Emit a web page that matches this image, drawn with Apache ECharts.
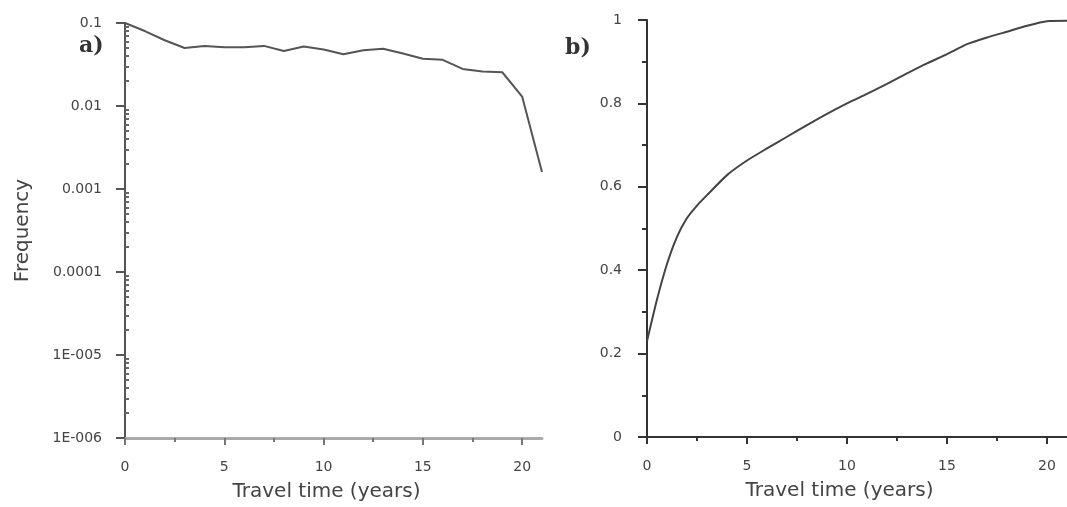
<!DOCTYPE html>
<html>
<head>
<meta charset="utf-8">
<script src="https://cdn.jsdelivr.net/npm/echarts@6/dist/echarts.min.js"></script>
<style>
html, body { margin: 0; padding: 0; background: #fff; }
#chart { width: 1067px; height: 507px; }
</style>
</head>
<body>
<div id="chart"></div>
<script>
// a) frequency of travel time (log scale)
var yearsA = [0, 1, 2, 3, 4, 5, 6, 7, 8, 9, 10, 11, 12, 13, 14, 15, 16, 17, 18, 19, 20, 21];
var freqA = [0.1, 0.08, 0.062, 0.05, 0.053, 0.051, 0.051, 0.053, 0.046, 0.052, 0.048, 0.042, 0.047, 0.049, 0.043, 0.037, 0.036, 0.028, 0.026, 0.0255, 0.013, 0.0016];
// b) cumulative
var yearsB = [0, 0.5, 1, 1.5, 2, 2.5, 3, 4, 5, 6, 7, 8, 9, 10, 11, 12, 13, 14, 15, 16, 17, 18, 19, 20, 21];
var cumB = [0.23, 0.33, 0.415, 0.48, 0.525, 0.555, 0.58, 0.628, 0.663, 0.692, 0.72, 0.748, 0.775, 0.8, 0.823, 0.847, 0.872, 0.896, 0.918, 0.942, 0.958, 0.972, 0.986, 0.997, 0.998];

var xTicks = [0, 5, 10, 15, 20];
var xMinor = [2.5, 7.5, 12.5, 17.5];
var logTicks = [1e-6, 1e-5, 1e-4, 1e-3, 1e-2, 1e-1];
var logLabels = ['1E-006', '1E-005', '0.0001', '0.001', '0.01', '0.1'];
var logMinor = [];
for (var d = -6; d < -1; d++) {
    for (var k = 2; k <= 9; k++) logMinor.push(k * Math.pow(10, d));
}
var linTicks = [0, 0.2, 0.4, 0.6, 0.8, 1];
var linMinor = [0.1, 0.3, 0.5, 0.7, 0.9];

var labelStyle = { color: '#444', fontSize: 14, fontFamily: 'DejaVu Sans, sans-serif' };
var nameStyle = { color: '#444', fontSize: 20, fontFamily: 'DejaVu Sans, sans-serif' };

var chart = echarts.init(document.getElementById('chart'));
chart.setOption({
    backgroundColor: '#fff',
    animation: false,
    grid: [
        { left: 125, top: 23, width: 417, height: 415, outerBoundsMode: 'none', containLabel: false },
        { left: 647, top: 20, width: 420, height: 417, outerBoundsMode: 'none', containLabel: false }
    ],
    xAxis: [
        {
            gridIndex: 0, type: 'value', min: 0, max: 21, position: 'bottom',
            name: 'Travel time (years)', nameLocation: 'center', nameGap: 44,
            nameTextStyle: Object.assign({}, nameStyle, { padding: [0, 14, 0, 0] }),
            axisLine: { onZero: false, lineStyle: { color: '#aaa', width: 3 } },
            axisTick: { customValues: xTicks, length: 7, lineStyle: { color: '#777', width: 2 } },
            axisLabel: { customValues: xTicks, margin: 22, ...labelStyle },
            splitLine: { show: false }
        },
        {
            gridIndex: 0, type: 'value', min: 0, max: 21, position: 'bottom',
            axisLine: { show: false, onZero: false },
            axisTick: { customValues: xMinor, length: 4, lineStyle: { color: '#777', width: 2 } },
            axisLabel: { show: false },
            splitLine: { show: false }
        },
        {
            gridIndex: 1, type: 'value', min: 0, max: 21, position: 'bottom',
            name: 'Travel time (years)', nameLocation: 'center', nameGap: 44,
            nameTextStyle: Object.assign({}, nameStyle, { padding: [0, 35, 0, 0] }),
            axisLine: { onZero: false, lineStyle: { color: '#333', width: 2 } },
            axisTick: { customValues: xTicks, length: 7, lineStyle: { color: '#333', width: 2 } },
            axisLabel: { customValues: xTicks, margin: 22, ...labelStyle },
            splitLine: { show: false }
        },
        {
            gridIndex: 1, type: 'value', min: 0, max: 21, position: 'bottom',
            axisLine: { show: false, onZero: false },
            axisTick: { customValues: xMinor, length: 4, lineStyle: { color: '#333', width: 2 } },
            axisLabel: { show: false },
            splitLine: { show: false }
        }
    ],
    yAxis: [
        {
            gridIndex: 0, type: 'log', logBase: 10, min: 1e-6, max: 0.1, position: 'left',
            name: 'Frequency', nameLocation: 'center', nameGap: 92,
            nameTextStyle: nameStyle,
            axisLine: { onZero: false, lineStyle: { color: '#555', width: 2 } },
            axisTick: { customValues: logTicks, length: 9, lineStyle: { color: '#555', width: 2 } },
            axisLabel: {
                customValues: logTicks, margin: 23, ...labelStyle,
                formatter: function (v) {
                    var i = logTicks.findIndex(function (t) { return Math.abs(Math.log10(t) - Math.log10(v)) < 1e-6; });
                    return i >= 0 ? logLabels[i] : '';
                }
            },
            splitLine: { show: false }
        },
        {
            gridIndex: 0, type: 'log', logBase: 10, min: 1e-6, max: 0.1, position: 'left',
            axisLine: { show: false, onZero: false },
            axisTick: { customValues: logMinor, inside: true, length: 4, lineStyle: { color: '#666', width: 2 } },
            axisLabel: { show: false },
            splitLine: { show: false }
        },
        {
            gridIndex: 1, type: 'value', min: 0, max: 1, position: 'left',
            axisLine: { onZero: false, lineStyle: { color: '#333', width: 2 } },
            axisTick: { customValues: linTicks, length: 9, lineStyle: { color: '#333', width: 2 } },
            axisLabel: { customValues: linTicks, margin: 25, ...labelStyle },
            splitLine: { show: false }
        },
        {
            gridIndex: 1, type: 'value', min: 0, max: 1, position: 'left',
            axisLine: { show: false, onZero: false },
            axisTick: { customValues: linMinor, length: 5, lineStyle: { color: '#333', width: 2 } },
            axisLabel: { show: false },
            splitLine: { show: false }
        }
    ],
    graphic: [
        { type: 'text', left: 79, top: 35, style: { text: 'a)', fontSize: 22, fontWeight: 'bold', fill: '#333', fontFamily: 'DejaVu Serif, Liberation Serif, serif' } },
        { type: 'text', left: 565, top: 37, style: { text: 'b)', fontSize: 22, fontWeight: 'bold', fill: '#333', fontFamily: 'DejaVu Serif, Liberation Serif, serif' } }
    ],
    series: [
        {
            type: 'line', xAxisIndex: 0, yAxisIndex: 0,
            data: yearsA.map(function (x, i) { return [x, freqA[i]]; }),
            showSymbol: false, lineStyle: { color: '#555', width: 2 }
        },
        {
            type: 'line', xAxisIndex: 2, yAxisIndex: 2,
            data: yearsB.map(function (x, i) { return [x, cumB[i]]; }),
            showSymbol: false, smooth: 0.2, lineStyle: { color: '#444', width: 2 }
        }
    ]
});
</script>
</body>
</html>
